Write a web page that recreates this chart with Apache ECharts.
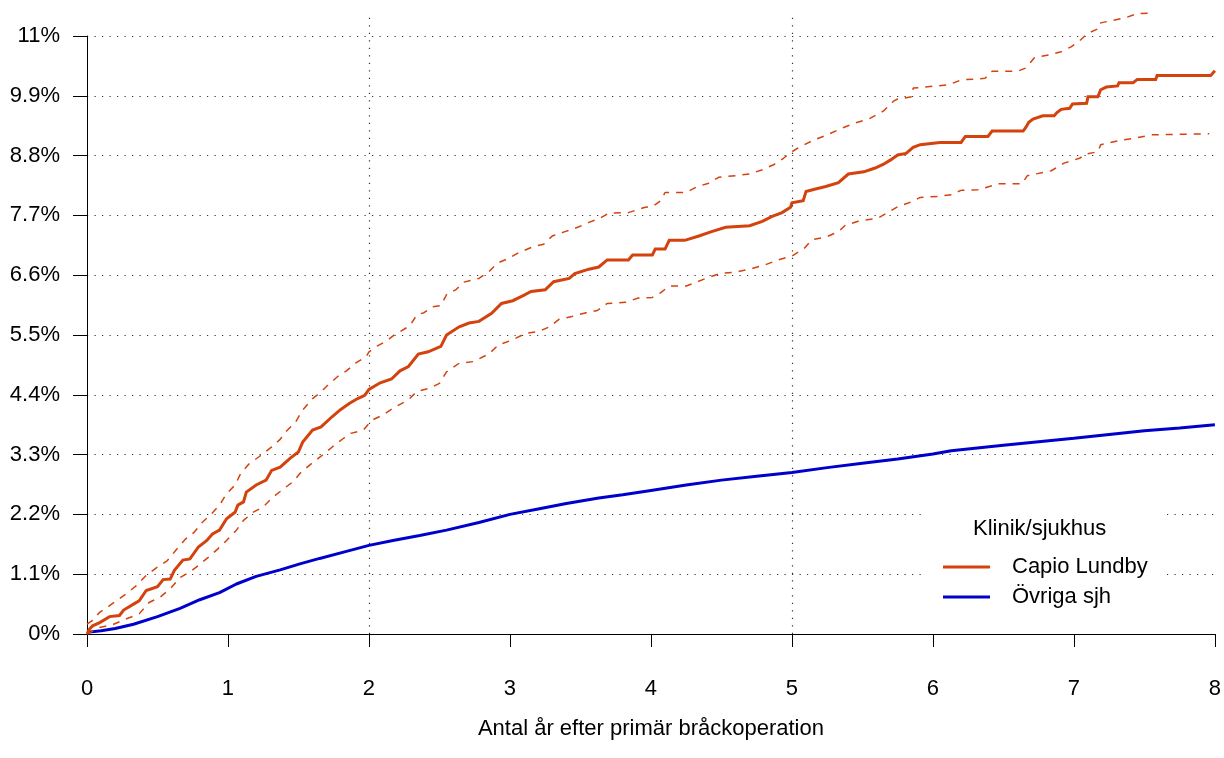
<!DOCTYPE html>
<html><head><meta charset="utf-8">
<script src="https://cdn.jsdelivr.net/npm/echarts@6/dist/echarts.min.js"></script>
<style>html,body{margin:0;padding:0;background:#fff}#c{width:1224px;height:758px}</style>
</head><body><div id="c"></div>
<script>
// ---- data (years, percent) ----
const seriesNames = ['Capio Lundby', 'Övriga sjh'];
const legendTitle = 'Klinik/sjukhus';
const xAxisTitle = 'Antal år efter primär bråckoperation';
const xTicks = [0, 1, 2, 3, 4, 5, 6, 7, 8];
const yTickStep = 1.1;
const yTickMax = 11;
const vGridAt = [2, 5];

const capio = [[0,0],[0.02,0.1],[0.04,0.15],[0.09,0.21],[0.16,0.32],[0.23,0.34],[0.26,0.44],[0.33,0.55],[0.37,0.61],[0.42,0.80],[0.50,0.87],[0.54,1.00],[0.59,1.01],[0.62,1.17],[0.68,1.36],[0.73,1.38],[0.79,1.60],[0.85,1.72],[0.89,1.84],[0.94,1.91],[0.99,2.12],[1.05,2.24],[1.07,2.37],[1.11,2.43],[1.13,2.61],[1.20,2.74],[1.27,2.83],[1.31,3.01],[1.37,3.07],[1.44,3.23],[1.50,3.35],[1.53,3.53],[1.60,3.75],[1.66,3.81],[1.74,4.00],[1.80,4.13],[1.86,4.24],[1.92,4.33],[1.97,4.39],[2.00,4.50],[2.08,4.62],[2.16,4.69],[2.22,4.84],[2.28,4.92],[2.35,5.15],[2.42,5.19],[2.51,5.29],[2.55,5.50],[2.64,5.65],[2.71,5.72],[2.78,5.75],[2.87,5.90],[2.94,6.08],[3.02,6.13],[3.09,6.22],[3.15,6.30],[3.25,6.33],[3.31,6.48],[3.42,6.54],[3.46,6.63],[3.56,6.71],[3.63,6.75],[3.69,6.88],[3.84,6.88],[3.87,6.97],[4.01,6.97],[4.03,7.08],[4.10,7.08],[4.13,7.24],[4.24,7.24],[4.34,7.32],[4.43,7.40],[4.53,7.48],[4.70,7.51],[4.79,7.59],[4.86,7.68],[4.93,7.75],[4.99,7.85],[5.00,7.93],[5.08,7.97],[5.10,8.14],[5.16,8.18],[5.24,8.23],[5.33,8.30],[5.40,8.46],[5.51,8.50],[5.59,8.57],[5.65,8.64],[5.70,8.72],[5.75,8.81],[5.81,8.84],[5.86,8.95],[5.91,9.00],[6.05,9.04],[6.20,9.04],[6.23,9.15],[6.39,9.15],[6.42,9.25],[6.64,9.25],[6.66,9.32],[6.68,9.41],[6.71,9.47],[6.78,9.53],[6.86,9.53],[6.88,9.59],[6.91,9.65],[6.97,9.67],[6.99,9.75],[7.09,9.76],[7.10,9.88],[7.17,9.88],[7.19,10.01],[7.23,10.06],[7.31,10.08],[7.32,10.14],[7.42,10.14],[7.45,10.20],[7.58,10.20],[7.59,10.27],[7.97,10.27],[8.00,10.36]];

const capioUpper = [[0,0.18],[0.04,0.25],[0.09,0.40],[0.16,0.52],[0.23,0.65],[0.28,0.74],[0.35,0.89],[0.42,1.08],[0.50,1.23],[0.57,1.35],[0.63,1.54],[0.70,1.75],[0.76,1.87],[0.82,2.06],[0.88,2.20],[0.94,2.37],[0.99,2.58],[1.05,2.74],[1.09,2.95],[1.15,3.13],[1.22,3.26],[1.31,3.44],[1.37,3.58],[1.41,3.72],[1.48,3.90],[1.53,4.12],[1.60,4.33],[1.65,4.43],[1.71,4.58],[1.78,4.74],[1.84,4.84],[1.91,4.99],[1.98,5.10],[2.00,5.19],[2.06,5.30],[2.12,5.38],[2.18,5.50],[2.22,5.56],[2.29,5.67],[2.34,5.87],[2.39,5.91],[2.45,6.02],[2.51,6.04],[2.55,6.24],[2.62,6.34],[2.67,6.47],[2.78,6.54],[2.85,6.66],[2.91,6.82],[2.99,6.91],[3.06,7.01],[3.16,7.12],[3.24,7.17],[3.30,7.32],[3.39,7.40],[3.48,7.48],[3.56,7.57],[3.64,7.65],[3.70,7.74],[3.84,7.75],[3.96,7.85],[4.01,7.86],[4.07,7.97],[4.10,8.12],[4.25,8.12],[4.33,8.23],[4.41,8.29],[4.48,8.40],[4.60,8.43],[4.70,8.46],[4.79,8.54],[4.87,8.63],[4.94,8.75],[5.00,8.87],[5.05,8.95],[5.15,9.08],[5.25,9.18],[5.35,9.30],[5.45,9.40],[5.55,9.48],[5.65,9.62],[5.72,9.80],[5.75,9.84],[5.85,9.88],[5.86,10.04],[6.11,10.10],[6.20,10.19],[6.37,10.22],[6.42,10.35],[6.60,10.35],[6.66,10.41],[6.72,10.60],[6.82,10.65],[6.91,10.71],[6.98,10.80],[7.04,10.91],[7.10,11.05],[7.18,11.14],[7.19,11.24],[7.36,11.33],[7.45,11.41],[7.57,11.42]];

const capioLower = [[0,0],[0.09,0.12],[0.18,0.17],[0.28,0.28],[0.37,0.37],[0.44,0.58],[0.52,0.68],[0.59,0.83],[0.66,1.04],[0.73,1.14],[0.79,1.26],[0.86,1.41],[0.93,1.57],[0.99,1.72],[1.06,1.91],[1.11,2.09],[1.18,2.24],[1.25,2.34],[1.32,2.52],[1.39,2.66],[1.46,2.80],[1.52,2.98],[1.59,3.13],[1.66,3.27],[1.74,3.44],[1.82,3.60],[1.87,3.69],[1.96,3.75],[2.02,3.93],[2.10,4.03],[2.17,4.15],[2.28,4.31],[2.34,4.46],[2.43,4.52],[2.50,4.61],[2.55,4.82],[2.64,4.98],[2.74,5.01],[2.85,5.15],[2.92,5.32],[3.02,5.41],[3.11,5.53],[3.20,5.56],[3.28,5.65],[3.35,5.79],[3.44,5.84],[3.54,5.91],[3.62,5.95],[3.69,6.08],[3.82,6.10],[3.91,6.18],[4.01,6.19],[4.07,6.28],[4.13,6.40],[4.25,6.40],[4.33,6.48],[4.41,6.56],[4.49,6.63],[4.61,6.66],[4.70,6.71],[4.81,6.79],[4.90,6.88],[5.00,6.95],[5.09,7.10],[5.14,7.25],[5.24,7.30],[5.33,7.40],[5.38,7.52],[5.47,7.59],[5.61,7.65],[5.68,7.75],[5.75,7.86],[5.85,7.95],[5.91,8.03],[6.04,8.05],[6.13,8.08],[6.20,8.16],[6.32,8.17],[6.40,8.23],[6.46,8.28],[6.63,8.28],[6.67,8.43],[6.84,8.52],[6.93,8.66],[7.04,8.75],[7.09,8.83],[7.17,8.87],[7.19,9.00],[7.31,9.07],[7.43,9.12],[7.55,9.18],[7.96,9.20]];

const ovriga = [[0,0.03],[0.1,0.06],[0.2,0.10],[0.33,0.18],[0.5,0.32],[0.66,0.47],[0.8,0.63],[0.94,0.76],[1.06,0.92],[1.2,1.06],[1.37,1.18],[1.51,1.29],[1.65,1.39],[1.84,1.52],[2.0,1.63],[2.17,1.72],[2.36,1.81],[2.55,1.91],[2.78,2.05],[3.0,2.20],[3.2,2.30],[3.4,2.40],[3.63,2.50],[3.8,2.56],[4.0,2.64],[4.25,2.74],[4.5,2.83],[4.75,2.90],[5.0,2.97],[5.25,3.06],[5.5,3.14],[5.75,3.22],[6.0,3.31],[6.13,3.37],[6.5,3.47],[7.0,3.60],[7.25,3.67],[7.5,3.74],[7.75,3.79],[8.0,3.85]];

// ---- style ----
const FONT = '"Liberation Sans", Arial, Helvetica, sans-serif';
const RED = '#D4420E', BLUE = '#0000CD';
const Y_TOP = 11.44;
const dotted = {color: '#333', width: 1.2, type: [1.2, 6.3]};

const chart = echarts.init(document.getElementById('c'), null, {renderer: 'canvas'});
chart.setOption({
  animation: false,
  backgroundColor: '#fff',
  textStyle: {fontFamily: FONT},
  grid: [
    {left: 87, right: 7, top: 12, bottom: 124},
    {left: 87, right: 7, top: 36, bottom: 124}
  ],
  xAxis: [
    {gridIndex: 0, type: 'value', min: xTicks[0], max: xTicks[xTicks.length - 1], interval: 1,
     axisLine: {lineStyle: {color: '#000', width: 1}},
     axisTick: {length: 13, lineStyle: {color: '#000', width: 1}},
     axisLabel: {fontSize: 22, color: '#000', margin: 44, fontFamily: FONT},
     splitLine: {show: false},
     name: xAxisTitle, nameLocation: 'middle', nameGap: 84,
     nameTextStyle: {fontSize: 22, color: '#000', fontFamily: FONT}},
    {gridIndex: 1, type: 'value', min: 0, max: 8, show: false}
  ],
  yAxis: [
    {gridIndex: 0, type: 'value', min: 0, max: Y_TOP, show: false},
    {gridIndex: 1, type: 'value', min: 0, max: yTickMax, interval: yTickStep,
     axisLine: {show: true, lineStyle: {color: '#000', width: 1}},
     axisTick: {show: true, length: 14, lineStyle: {color: '#000', width: 1}},
     axisLabel: {fontSize: 22, color: '#000', margin: 27, fontFamily: FONT,
       formatter: v => (Math.round(v * 10) / 10) + '%'},
     splitLine: {show: true, lineStyle: dotted}}
  ],
  title: {text: legendTitle, left: 973, top: 518, padding: 0,
    textStyle: {fontSize: 22, fontWeight: 'normal', color: '#000', fontFamily: FONT}},
  legend: {
    data: seriesNames, orient: 'vertical', left: 922, top: 505,
    padding: [51, 16, 12, 21], itemGap: 8, itemWidth: 47, itemHeight: 3,
    icon: 'rect', backgroundColor: '#fff', selectedMode: false,
    textStyle: {fontSize: 22, color: '#000', fontFamily: FONT, padding: [0, 0, 0, 17]}
  },
  series: [
    {name: 'vgrid', type: 'line', xAxisIndex: 0, yAxisIndex: 0, data: [], z: 1, silent: true,
     markLine: {silent: true, symbol: 'none', label: {show: false}, lineStyle: dotted,
       data: vGridAt.map(v => ({xAxis: v}))}},
    {name: seriesNames[1], type: 'line', xAxisIndex: 0, yAxisIndex: 0, data: ovriga,
     showSymbol: false, symbol: 'none', color: BLUE, lineStyle: {color: BLUE, width: 3}, z: 3},
    {name: 'upper', type: 'line', xAxisIndex: 0, yAxisIndex: 0, data: capioUpper,
     showSymbol: false, symbol: 'none', color: RED, lineStyle: {color: RED, width: 1.5, type: [7, 7]}, z: 3},
    {name: 'lower', type: 'line', xAxisIndex: 0, yAxisIndex: 0, data: capioLower,
     showSymbol: false, symbol: 'none', color: RED, lineStyle: {color: RED, width: 1.5, type: [7, 7]}, z: 3},
    {name: seriesNames[0], type: 'line', xAxisIndex: 0, yAxisIndex: 0, data: capio,
     showSymbol: false, symbol: 'none', color: RED, lineStyle: {color: RED, width: 3, join: 'miter'}, z: 4}
  ]
});
</script>
</body></html>
